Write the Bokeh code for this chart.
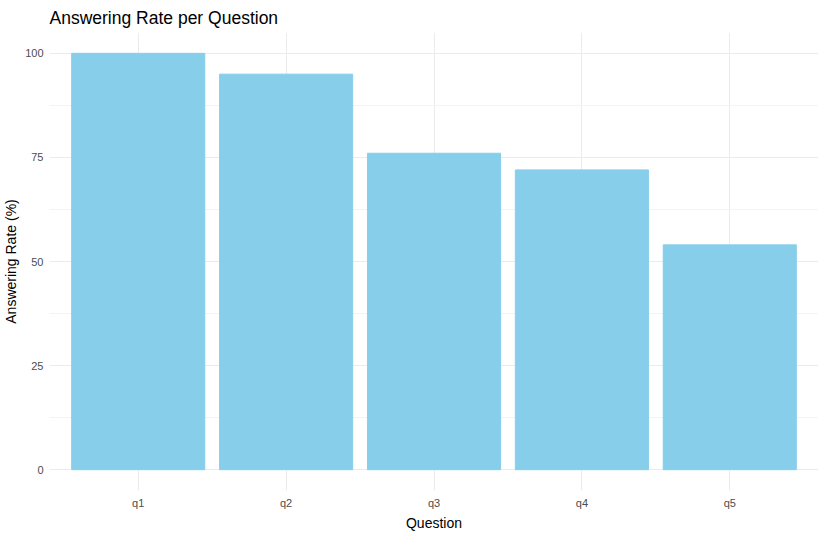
from bokeh.plotting import figure
from bokeh.models import FixedTicker, Range1d
from bokeh.embed import file_html
from bokeh.resources import INLINE

questions = ["q1", "q2", "q3", "q4", "q5"]
rates = [100, 95, 76, 72, 54]

xs = list(range(1, len(questions) + 1))
font = "Liberation Sans"

p = figure(width=818, height=533, output_backend="svg", toolbar_location=None,
           x_range=Range1d(0.4, 5.6), y_range=Range1d(-5, 105),
           title="Answering Rate per Question",
           min_border_left=46, min_border_right=0, min_border_top=23, min_border_bottom=30)

p.vbar(x=xs, top=rates, width=0.9, color="#87ceeb")

p.outline_line_color = None
p.title.text_font = font
p.title.text_font_size = "17.5px"
p.title.text_font_style = "normal"
p.title.text_color = "black"
p.title.offset = 0

for ax in (p.xaxis, p.yaxis):
    ax.axis_line_color = None
    ax.major_tick_line_color = None
    ax.minor_tick_line_color = None
    ax.major_tick_out = 0
    ax.major_tick_in = 0
    ax.minor_tick_out = 0
    ax.minor_tick_in = 0
    ax.major_label_standoff = 6
    ax.major_label_text_font = font
    ax.major_label_text_font_size = "11px"
    ax.major_label_text_color = "#4d4d4d"
    ax.axis_label_text_font = font
    ax.axis_label_text_font_size = "14px"
    ax.axis_label_text_font_style = "normal"
    ax.axis_label_text_color = "black"
    ax.axis_label_standoff = 3

p.xaxis.ticker = FixedTicker(ticks=xs)
p.xaxis.major_label_overrides = {x: q for x, q in zip(xs, questions)}
p.xaxis.axis_label = "Question"
p.yaxis.ticker = FixedTicker(ticks=[0, 25, 50, 75, 100], minor_ticks=[12.5, 37.5, 62.5, 87.5])
p.yaxis.axis_label = "Answering Rate (%)"

p.xgrid.grid_line_color = "#ebebeb"
p.ygrid.grid_line_color = "#ebebeb"
p.ygrid.minor_grid_line_color = "#f4f4f4"
p.xgrid.level = "underlay"
p.ygrid.level = "underlay"

open("out.html", "w").write(file_html(p, INLINE))
